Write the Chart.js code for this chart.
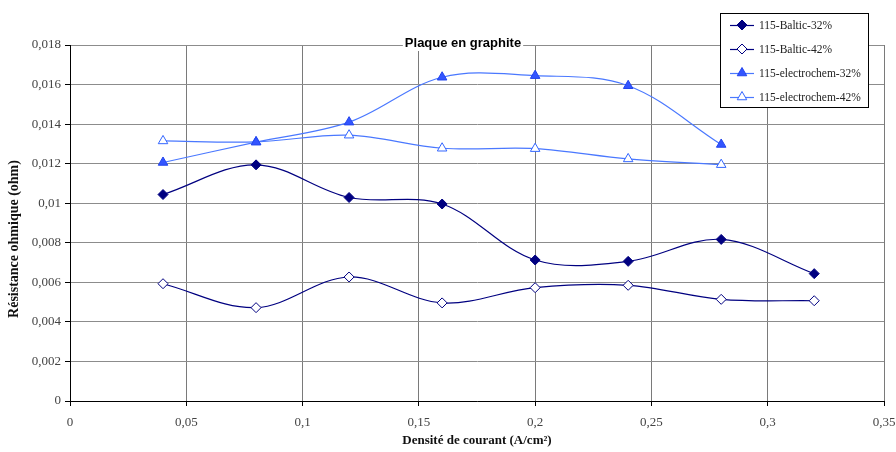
<!DOCTYPE html>
<html>
<head>
<meta charset="utf-8">
<script src="https://cdn.jsdelivr.net/npm/chart.js@4/dist/chart.umd.min.js"></script>
<style>
  html, body { margin: 0; padding: 0; background: #fff; }
</style>
</head>
<body>
<canvas id="chart" width="896" height="452"></canvas>
<script>
// ── DATA ──────────────────────────────────────────────────────
const currentDensity = [0.04, 0.08, 0.12, 0.16, 0.2, 0.24, 0.28, 0.32];
const baltic32  = [0.01044, 0.01194, 0.01029, 0.00996, 0.00713, 0.00706, 0.00817, 0.00644];
const baltic42  = [0.00593, 0.00472, 0.00627, 0.00496, 0.00573, 0.00585, 0.00514, 0.00507];
const electro32 = [0.01206, 0.01309, 0.01410, 0.01637, 0.01645, 0.01594, 0.01297];
const electro42 = [0.01315, 0.01310, 0.01344, 0.01278, 0.01276, 0.01224, 0.01195];
const seriesNames = ['115-Baltic-32%', '115-Baltic-42%', '115-electrochem-32%', '115-electrochem-42%'];
const chartTitle = 'Plaque en graphite';
const xTitle = 'Densité de courant (A/cm²)';
const yTitle = 'Résistance ohmique (ohm)';

const SERIF = '"Liberation Serif", "Times New Roman", serif';
const SANS  = '"Liberation Sans", Arial, sans-serif';

const toPoints = ys => ys.map((y, i) => ({ x: currentDensity[i], y }));
const comma = v => String(+v.toFixed(4)).replace('.', ',');

function series(label, ys, line, fill, edge, style, r) {
  return {
    label, data: toPoints(ys),
    borderColor: line, borderWidth: 1.2,
    pointStyle: style, pointRadius: r, pointHoverRadius: r,
    pointBackgroundColor: fill, pointBorderColor: edge, pointBorderWidth: 1,
    tension: 0.35, fill: false
  };
}

// ── OVERLAY: title, legend box, axis titles ───────────────────
const overlay = {
  id: 'overlay',
  afterDraw(chart) {
    const ctx = chart.ctx;
    const ca = chart.chartArea;
    ctx.save();

    // chart title sits over the top gridline with a white backing
    ctx.font = 'bold 13px ' + SANS;
    const tw = ctx.measureText(chartTitle).width;
    const tx = 463, ty = 43;
    ctx.fillStyle = '#fff';
    ctx.fillRect(tx - tw / 2 - 2, ty - 8, tw + 4, 16);
    ctx.fillStyle = '#000';
    ctx.textAlign = 'center';
    ctx.textBaseline = 'middle';
    ctx.fillText(chartTitle, tx, ty);

    // axis titles
    ctx.font = 'bold 13px ' + SERIF;
    ctx.fillStyle = '#111';
    ctx.fillText(xTitle, (ca.left + ca.right) / 2, 441);
    ctx.save();
    ctx.translate(14, 239);
    ctx.rotate(-Math.PI / 2);
    ctx.font = 'bold 14px ' + SERIF;
    ctx.fillText(yTitle, 0, 0);
    ctx.restore();

    // legend box
    ctx.fillStyle = '#fff';
    ctx.fillRect(720, 13, 148, 95);
    ctx.strokeStyle = '#000';
    ctx.lineWidth = 1;
    ctx.strokeRect(720.5, 13.5, 148, 94);
    ctx.textAlign = 'left';
    ctx.font = '11.5px ' + SERIF;
    chart.data.datasets.forEach((ds, i) => {
      const y = 25 + i * 24;
      ctx.strokeStyle = ds.borderColor;
      ctx.lineWidth = ds.borderWidth;
      ctx.beginPath();
      ctx.moveTo(730, y + 0.5);
      ctx.lineTo(754, y + 0.5);
      ctx.stroke();
      ctx.fillStyle = ds.pointBackgroundColor;
      ctx.strokeStyle = ds.pointBorderColor;
      ctx.lineWidth = 1;
      Chart.helpers.drawPoint(ctx, { pointStyle: ds.pointStyle, radius: ds.pointRadius, rotation: 0, borderWidth: 1 }, 742, y);
      ctx.fillStyle = '#222';
      ctx.fillText(seriesNames[i], 759, y + 1);
    });
    ctx.restore();
  }
};

new Chart(document.getElementById('chart'), {
  type: 'line',
  data: {
    datasets: [
      series(seriesNames[0], baltic32,  '#000080', '#000080', '#000080', 'rectRot', 5),
      series(seriesNames[1], baltic42,  '#000080', '#ffffff', '#000080', 'rectRot', 5),
      series(seriesNames[2], electro32, '#4a78ff', '#3355ff', '#2244ee', 'triangle', 5.5),
      series(seriesNames[3], electro42, '#4a78ff', '#ffffff', '#3366ff', 'triangle', 5.5)
    ]
  },
  options: {
    responsive: false,
    animation: false,
    layout: { padding: { top: 45, right: 12, left: 0, bottom: 0 } },
    plugins: {
      legend: { display: false },
      title: { display: false },
      tooltip: { enabled: false }
    },
    scales: {
      x: {
        type: 'linear', min: 0, max: 0.35,
        // last tick label is allowed to run past the plot edge, as in the original
        afterFit: s => { s.height = 51; s.paddingRight = 0; s.paddingLeft = 0; },
        ticks: {
          stepSize: 0.05, padding: 9, color: '#444',
          font: { family: SERIF, size: 13 },
          callback: v => comma(v)
        },
        grid: { color: '#7a7a7a', tickColor: '#000', tickLength: 5 },
        border: { color: '#000', width: 1 }
      },
      y: {
        min: 0, max: 0.018,
        afterFit: s => { s.width = 70; s.paddingTop = 0; s.paddingBottom = 0; },
        ticks: {
          stepSize: 0.002, padding: 4, color: '#444',
          font: { family: SERIF, size: 13 },
          callback: v => comma(v)
        },
        grid: { color: '#8c8c8c', tickColor: '#000', tickLength: 5 },
        border: { color: '#000', width: 1 }
      }
    }
  },
  plugins: [overlay]
});
</script>
</body>
</html>
